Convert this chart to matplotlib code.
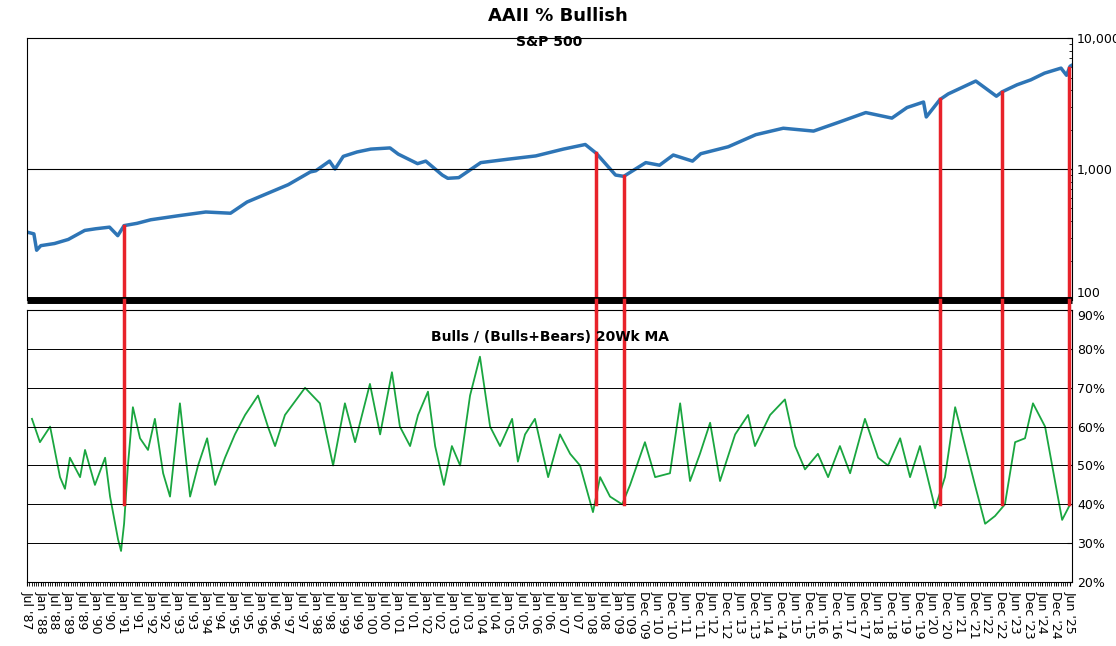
import numpy as np
import matplotlib.pyplot as plt
from matplotlib.ticker import FixedLocator

# S&P 500 (decimal year, level)
spx_t = [1987.5, 1987.75, 1987.85, 1988.0, 1988.5, 1989.0, 1989.6, 1990.0, 1990.5, 1990.8,
         1991.03, 1991.5, 1992.0, 1993.0, 1994.0, 1994.9, 1995.5, 1996.0, 1997.0, 1997.8,
         1998.0, 1998.5, 1998.7, 1999.0, 1999.5, 2000.0, 2000.7, 2001.0, 2001.7, 2002.0,
         2002.6, 2002.8, 2003.2, 2004.0, 2005.0, 2006.0, 2007.0, 2007.8, 2008.2, 2008.9,
         2009.2, 2010.0, 2010.5, 2011.0, 2011.7, 2012.0, 2013.0, 2014.0, 2015.0, 2016.1,
         2017.0, 2018.0, 2018.95, 2019.5, 2020.1, 2020.2, 2020.7, 2021.0, 2022.0, 2022.75,
         2022.97, 2023.5, 2024.0, 2024.5, 2025.1, 2025.3, 2025.43, 2025.55]
spx_v = [330, 320, 240, 260, 270, 290, 340, 350, 360, 310,
         370, 385, 410, 440, 470, 460, 560, 620, 760, 950,
         970, 1150, 1000, 1250, 1350, 1420, 1450, 1300, 1100, 1150,
         900, 850, 860, 1120, 1190, 1260, 1420, 1540, 1320, 900,
         880, 1120, 1070, 1280, 1150, 1310, 1480, 1830, 2050, 1950,
         2270, 2700, 2450, 2950, 3250, 2500, 3400, 3750, 4700, 3600,
         3900, 4400, 4800, 5400, 5900, 5200, 6100, 6300]

# Bulls / (Bulls+Bears) 20-week MA, %
bull_t = [1987.68, 1987.97, 1988.34, 1988.70, 1988.88, 1989.06, 1989.43, 1989.61, 1989.97, 1990.34,
          1990.52, 1990.81, 1990.92, 1991.03, 1991.17, 1991.35, 1991.61, 1991.90, 1992.15, 1992.45,
          1992.70, 1993.06, 1993.43, 1993.72, 1994.05, 1994.34, 1994.70, 1995.06, 1995.43, 1995.90,
          1996.26, 1996.52, 1996.88, 1997.61, 1998.15, 1998.63, 1999.06, 1999.43, 1999.97, 2000.34,
          2000.77, 2001.06, 2001.43, 2001.72, 2002.08, 2002.34, 2002.66, 2002.95, 2003.25, 2003.61,
          2003.97, 2004.34, 2004.70, 2005.14, 2005.35, 2005.61, 2005.97, 2006.45, 2006.88, 2007.25,
          2007.61, 2008.08, 2008.34, 2008.70, 2009.14, 2009.43, 2009.97, 2010.34, 2010.88, 2011.25,
          2011.61, 2011.97, 2012.34, 2012.70, 2013.25, 2013.72, 2013.97, 2014.52, 2015.06, 2015.43,
          2015.79, 2016.26, 2016.63, 2017.06, 2017.43, 2017.97, 2018.45, 2018.81, 2019.25, 2019.61,
          2019.97, 2020.52, 2020.88, 2021.25, 2021.61, 2021.97, 2022.34, 2022.70, 2023.06, 2023.43,
          2023.79, 2024.08, 2024.52, 2024.88, 2025.14, 2025.43]
bull_v = [62, 56, 60, 47, 44, 52, 47, 54, 45, 52,
          42, 31, 28, 35, 50, 65, 57, 54, 62, 48,
          42, 66, 42, 50, 57, 45, 52, 58, 63, 68,
          60, 55, 63, 70, 66, 50, 66, 56, 71, 58,
          74, 60, 55, 63, 69, 55, 45, 55, 50, 68,
          78, 60, 55, 62, 51, 58, 62, 47, 58, 53,
          50, 38, 47, 42, 40, 45, 56, 47, 48, 66,
          46, 53, 61, 46, 58, 63, 55, 63, 67, 55,
          49, 53, 47, 55, 48, 62, 52, 50, 57, 47,
          55, 39, 47, 65, 55, 45, 35, 37, 40, 56,
          57, 66, 60, 46, 36, 40]

signal_t = [1991.03, 2008.2, 2009.2, 2020.7, 2022.97, 2025.4]
signal_level = 40

fig = plt.figure(figsize=(11.16, 6.46), dpi=100)
ax1 = fig.add_axes([0.0242, 0.5356, 0.9364, 0.4054])
ax2 = fig.add_axes([0.0242, 0.099, 0.9364, 0.421])

x0, x1 = 1987.5, 2025.5
blue = "#2e75b6"
green = "#1aa640"
red = "#e8222a"

ax1.plot(spx_t, spx_v, color=blue, lw=2.5)
ax1.set_yscale("log")
ax1.set_ylim(100, 10000)
ax1.set_xlim(x0, x1)
ax1.yaxis.tick_right()
ax1.set_yticks([100, 1000, 10000])
ax1.set_yticklabels(["100", "1,000", "10,000"], fontsize=9)
ax1.get_yticklabels()[0].set_va("bottom")
ax1.axhline(1000, color="black", lw=0.8)
ax1.set_xticks([])
ax1.spines["bottom"].set_linewidth(5)
ax1.spines["bottom"].set_capstyle("butt")
ax1.tick_params(axis="y", which="both", direction="in")
ax1.text(0.5, 1.01, "S&P 500", transform=ax1.transAxes, ha="center", va="top",
         fontsize=10, fontweight="bold")
fig.text(0.5, 0.975, "AAII % Bullish", ha="center", va="center", fontsize=13, fontweight="bold")

ax2.plot(bull_t, bull_v, color=green, lw=1.3)
ax2.set_ylim(20, 90)
ax2.set_xlim(x0, x1)
ax2.yaxis.tick_right()
ax2.set_yticks(range(20, 91, 10))
ax2.set_yticklabels([f"{v}%" for v in range(20, 91, 10)], fontsize=9)
ax2.get_yticklabels()[-1].set_va("top")
for v in range(30, 90, 10):
    ax2.axhline(v, color="black", lw=0.7)
ax2.tick_params(axis="y", direction="in")
ax2.text(0.5, 0.9, "Bulls / (Bulls+Bears) 20Wk MA", transform=ax2.transAxes,
         ha="center", va="center", fontsize=10, fontweight="bold")

# half-year tick labels
ticks, labels = [], []
for i in range(77):
    t = 1987.5 + i * 0.5
    yr = int(np.floor(t))
    if t < 2009.5:
        mon = "Jan" if t == yr else "Jul"
        pos = t
    else:
        if t == yr:
            mon, yr, pos = "Dec", yr - 1, t - 1 / 12
        else:
            mon, pos = "Jun", t - 1 / 12
    ticks.append(pos)
    labels.append(f"{mon} '{yr % 100:02d}")
ax2.set_xticks(ticks)
ax2.set_xticklabels(labels, rotation=-90, fontsize=9)
ax2.xaxis.set_minor_locator(FixedLocator(np.arange(x0, x1, 1 / 12)))
ax2.tick_params(axis="x", which="both", length=3)

# red signal lines across both panels
for t in signal_t:
    top = np.interp(t, spx_t, spx_v)
    ax1.plot([t, t], [100, top], color=red, lw=2.5, clip_on=False)
    ax2.plot([t, t], [signal_level, 90], color=red, lw=2.5)
    xf = ax1.transData.transform((t, 100))[0] / fig.bbox.width
    fig.add_artist(plt.Line2D([xf, xf], [0.5356, 0.520], color=red, lw=2.5,
                              transform=fig.transFigure))

fig.savefig("out.png", dpi=100)
